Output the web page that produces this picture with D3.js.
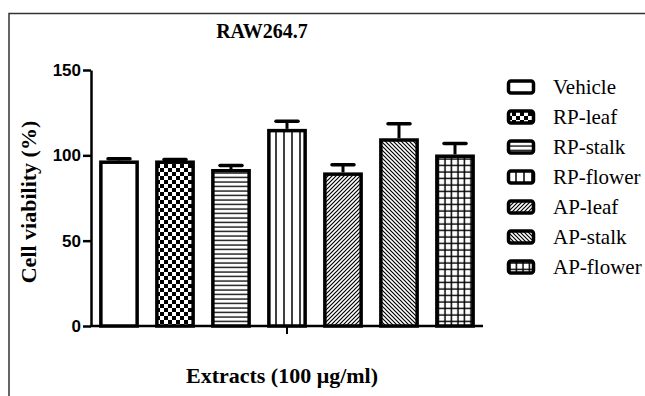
<!DOCTYPE html>
<html><head><meta charset="utf-8">
<script src="https://cdn.jsdelivr.net/npm/d3@7/dist/d3.min.js"></script>
<style>body{margin:0;background:#fff}svg{display:block}</style>
</head><body>
<svg id="chart" width="645" height="396"></svg>
<script>
const categories = ["Vehicle","RP-leaf","RP-stalk","RP-flower","AP-leaf","AP-stalk","AP-flower"];
const values = [97, 97, 92, 115.5, 90, 110, 100.5];
const errors = [1, 0.6, 2, 4.5, 4.5, 8.5, 6.5];
const patterns = ["none","check","hlines","vlines","diagUp","diagDown","grid"];
const yTicks = [0, 50, 100, 150];
const title = "RAW264.7";
const xLabel = "Extracts (100 \u03bcg/ml)";
const yLabel = "Cell viability (%)";

const svg = d3.select("#chart");
const defs = svg.append("defs");
function pat(id, size, draw) {
  const p = defs.append("pattern").attr("id", id).attr("patternUnits","userSpaceOnUse")
    .attr("width", size).attr("height", size);
  p.append("rect").attr("width", size).attr("height", size).attr("fill", "#fff");
  draw(p);
}
pat("check", 8, p => {
  p.append("rect").attr("x",0).attr("y",0).attr("width",4).attr("height",4).attr("fill","#000");
  p.append("rect").attr("x",4).attr("y",4).attr("width",4).attr("height",4).attr("fill","#000");
});
pat("hlines", 4.5, p => p.append("line").attr("x1",0).attr("x2",4.5).attr("y1",2).attr("y2",2).attr("stroke","#000").attr("stroke-width",1.3));
pat("vlines", 8, p => p.append("line").attr("x1",4).attr("x2",4).attr("y1",0).attr("y2",8).attr("stroke","#000").attr("stroke-width",1.5));
pat("diagUp", 4, p => {
  p.append("path").attr("d","M0,4 L4,0 M-1,1 L1,-1 M3,5 L5,3").attr("stroke","#000").attr("stroke-width",1.2);
});
pat("diagDown", 4, p => {
  p.append("path").attr("d","M0,0 L4,4 M-1,3 L1,5 M3,-1 L5,1").attr("stroke","#000").attr("stroke-width",1.2);
});
pat("grid", 6.5, p => {
  p.append("path").attr("d","M3,0 V6.5 M0,3 H6.5").attr("stroke","#000").attr("stroke-width",1.5);
});
const fillOf = k => k === "none" ? "#fff" : `url(#${k})`;

// frame
svg.append("path").attr("d","M9,396 V13.5 H645").attr("fill","none").attr("stroke","#333").attr("stroke-width",1.5);

const x = d3.scaleBand().domain(categories).range([91, 483]).paddingInner(0.29).paddingOuter(0.145);
const y = d3.scaleLinear().domain([0, 150]).range([326, 70]);

// y axis
const yAxis = d3.axisLeft(y).tickValues(yTicks).tickSize(8).tickSizeOuter(0).tickPadding(2);
const ga = svg.append("g").attr("transform","translate(91,0)").call(yAxis);
ga.select(".domain").attr("stroke","#000").attr("stroke-width",2.5);
ga.selectAll(".tick line").attr("stroke","#000").attr("stroke-width",2.5);
ga.selectAll(".tick text").attr("font-family","'Liberation Sans', Arial, sans-serif")
  .attr("font-weight","bold").attr("font-size",17).attr("fill","#000");

// x axis
svg.append("line").attr("x1",90).attr("x2",483).attr("y1",326).attr("y2",326).attr("stroke","#000").attr("stroke-width",2.5);
svg.append("line").attr("x1",(91+483)/2).attr("x2",(91+483)/2).attr("y1",326).attr("y2",334).attr("stroke","#000").attr("stroke-width",2);

// bars
const sw = 3.5;
const bars = svg.append("g");
categories.forEach((c, i) => {
  const bx = x(c), bw = x.bandwidth(), cx = bx + bw / 2;
  bars.append("line").attr("x1",cx).attr("x2",cx).attr("y1",y(values[i])).attr("y2",y(values[i]+errors[i]))
    .attr("stroke","#000").attr("stroke-width",3);
  bars.append("line").attr("x1",cx-11).attr("x2",cx+11).attr("y1",y(values[i]+errors[i])).attr("y2",y(values[i]+errors[i]))
    .attr("stroke","#000").attr("stroke-width",3.5).attr("stroke-linecap","round");
  bars.append("rect").attr("x",bx+sw/2).attr("y",y(values[i])+sw/2).attr("width",bw-sw)
    .attr("height",y(0)-y(values[i])-sw/2).attr("fill",fillOf(patterns[i]))
    .attr("stroke","#000").attr("stroke-width",sw);
});

// titles
svg.append("text").attr("x",262).attr("y",38).attr("text-anchor","middle")
  .attr("font-family","'Liberation Serif', 'Times New Roman', serif").attr("font-weight","bold").attr("font-size",20).text(title);
svg.append("text").attr("x",282).attr("y",383).attr("text-anchor","middle")
  .attr("font-family","'Liberation Serif', 'Times New Roman', serif").attr("font-weight","bold").attr("font-size",22).text(xLabel);
svg.append("text").attr("transform","translate(36,202) rotate(-90)").attr("text-anchor","middle")
  .attr("font-family","'Liberation Serif', 'Times New Roman', serif").attr("font-weight","bold").attr("font-size",22).text(yLabel);

// legend
const lg = svg.append("g");
categories.forEach((c, i) => {
  const cy = 87 + i * 30;
  lg.append("rect").attr("x",508.5).attr("y",cy-6).attr("width",25).attr("height",12).attr("rx",2.5)
    .attr("fill",fillOf(patterns[i])).attr("stroke","#000").attr("stroke-width",3.5);
  lg.append("text").attr("x",553).attr("y",cy+7)
    .attr("font-family","'Liberation Serif', 'Times New Roman', serif").attr("font-size",21).attr("fill","#000").text(c);
});
</script>
</body></html>
